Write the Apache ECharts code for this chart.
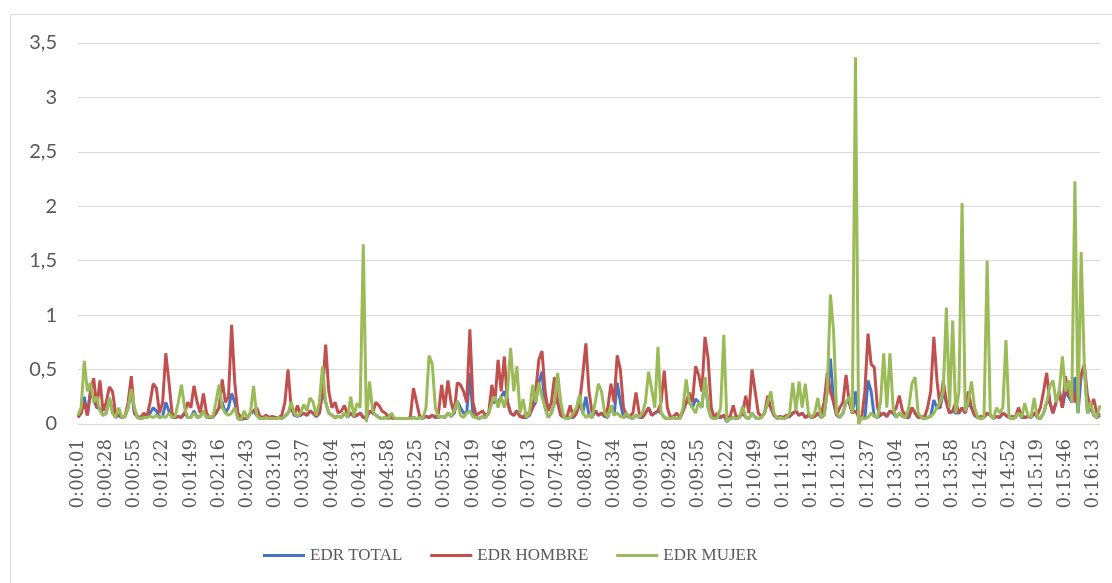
<!DOCTYPE html>
<html>
<head>
<meta charset="utf-8">
<script src="https://cdn.jsdelivr.net/npm/echarts@6/dist/echarts.min.js"></script>
<style>
html,body{margin:0;padding:0;background:#fff;}
#chart{width:1112px;height:583px;}
</style>
</head>
<body>
<div id="chart"></div>
<script>
// Time axis: one sample every 3 seconds, starting at 0:00:01
const startSecond = 1;
const stepSeconds = 3;
const labelEvery = 9; // a tick label every 27 s

const seriesNames = ['EDR TOTAL', 'EDR HOMBRE', 'EDR MUJER'];
const yTicks = [0, 0.5, 1, 1.5, 2, 2.5, 3, 3.5];

const edrTotal = [
0.06,0.1,0.25,0.08,0.3,0.22,0.15,0.14,0.08,
0.1,0.24,0.12,0.06,0.08,0.06,0.07,0.15,0.32,
0.1,0.06,0.05,0.06,0.06,0.1,0.15,0.12,0.06,
0.07,0.2,0.12,0.06,0.06,0.07,0.06,0.1,0.06,
0.06,0.12,0.06,0.07,0.12,0.06,0.06,0.06,0.1,
0.15,0.2,0.1,0.15,0.28,0.2,0.05,0.04,0.05,
0.05,0.1,0.12,0.08,0.05,0.05,0.06,0.05,0.05,
0.05,0.06,0.05,0.07,0.1,0.15,0.08,0.07,0.08,
0.1,0.08,0.12,0.1,0.07,0.1,0.3,0.2,0.1,
0.08,0.06,0.07,0.06,0.1,0.06,0.1,0.07,0.08,
0.1,0.06,0.05,0.12,0.1,0.08,0.06,0.05,0.06,
0.05,0.06,0.05,0.05,0.05,0.05,0.05,0.05,0.06,
0.05,0.06,0.05,0.07,0.06,0.08,0.06,0.06,0.07,
0.06,0.1,0.07,0.1,0.21,0.15,0.1,0.1,0.47,
0.07,0.06,0.05,0.07,0.06,0.1,0.2,0.2,0.2,
0.25,0.3,0.2,0.1,0.08,0.12,0.07,0.06,0.06,
0.08,0.15,0.2,0.38,0.48,0.15,0.06,0.1,0.2,
0.2,0.08,0.06,0.05,0.06,0.06,0.1,0.2,0.1,
0.25,0.08,0.06,0.12,0.08,0.1,0.07,0.06,0.17,
0.08,0.38,0.2,0.06,0.08,0.06,0.05,0.08,0.06,
0.06,0.1,0.15,0.08,0.1,0.12,0.1,0.06,0.05,
0.05,0.06,0.05,0.05,0.12,0.2,0.2,0.15,0.23,
0.2,0.15,0.43,0.15,0.06,0.05,0.06,0.06,0.08,
0.02,0.05,0.06,0.05,0.06,0.1,0.06,0.05,0.1,
0.06,0.05,0.06,0.1,0.2,0.15,0.08,0.05,0.06,
0.05,0.06,0.07,0.1,0.12,0.08,0.1,0.06,0.08,
0.06,0.07,0.1,0.06,0.08,0.3,0.6,0.2,0.08,
0.06,0.1,0.2,0.2,0.1,0.3,0.04,0.06,0.05,
0.4,0.3,0.07,0.06,0.08,0.1,0.07,0.12,0.1,
0.06,0.1,0.07,0.06,0.06,0.15,0.1,0.06,0.06,
0.05,0.06,0.07,0.22,0.15,0.15,0.3,0.2,0.1,
0.12,0.1,0.1,0.15,0.1,0.2,0.15,0.08,0.06,
0.05,0.06,0.1,0.08,0.05,0.07,0.06,0.1,0.08,
0.06,0.05,0.06,0.1,0.06,0.06,0.07,0.06,0.1,
0.06,0.05,0.1,0.2,0.2,0.1,0.2,0.3,0.15,
0.3,0.25,0.2,0.43,0.1,0.45,0.53,0.1,0.15,
0.08,0.06,0.08
];

const edrHombre = [
0.06,0.1,0.2,0.08,0.3,0.42,0.15,0.40,0.12,
0.2,0.34,0.3,0.1,0.08,0.06,0.07,0.2,0.44,
0.1,0.07,0.06,0.1,0.07,0.2,0.37,0.33,0.1,
0.2,0.65,0.39,0.1,0.06,0.07,0.06,0.1,0.2,
0.15,0.35,0.2,0.1,0.28,0.1,0.06,0.07,0.1,
0.15,0.41,0.2,0.25,0.91,0.38,0.1,0.06,0.05,
0.06,0.1,0.12,0.15,0.07,0.06,0.08,0.06,0.07,
0.06,0.06,0.08,0.2,0.50,0.15,0.08,0.17,0.08,
0.1,0.08,0.12,0.1,0.07,0.1,0.3,0.73,0.30,
0.15,0.2,0.1,0.12,0.17,0.08,0.1,0.07,0.08,
0.1,0.06,0.07,0.12,0.1,0.2,0.17,0.12,0.1,
0.07,0.06,0.05,0.05,0.05,0.05,0.05,0.06,0.33,
0.2,0.07,0.06,0.07,0.06,0.08,0.06,0.1,0.36,
0.15,0.40,0.2,0.1,0.38,0.36,0.30,0.2,0.87,
0.2,0.08,0.1,0.12,0.08,0.1,0.36,0.2,0.59,
0.3,0.62,0.2,0.1,0.08,0.12,0.07,0.06,0.1,
0.08,0.15,0.3,0.59,0.67,0.3,0.12,0.2,0.43,
0.2,0.08,0.06,0.07,0.17,0.06,0.1,0.2,0.45,
0.74,0.3,0.1,0.12,0.08,0.1,0.07,0.15,0.37,
0.2,0.63,0.50,0.15,0.08,0.07,0.1,0.29,0.1,
0.06,0.1,0.15,0.08,0.1,0.12,0.2,0.49,0.15,
0.06,0.07,0.1,0.06,0.12,0.2,0.29,0.2,0.53,
0.45,0.3,0.80,0.6,0.15,0.06,0.1,0.06,0.08,
0.06,0.07,0.17,0.06,0.07,0.1,0.26,0.1,0.50,
0.3,0.1,0.07,0.1,0.26,0.15,0.08,0.06,0.07,
0.06,0.08,0.07,0.1,0.12,0.08,0.1,0.06,0.08,
0.06,0.07,0.1,0.08,0.2,0.47,0.3,0.2,0.08,
0.15,0.2,0.45,0.2,0.1,0.12,0.07,0.06,0.3,
0.83,0.55,0.52,0.15,0.08,0.1,0.07,0.12,0.1,
0.15,0.26,0.12,0.08,0.06,0.15,0.1,0.06,0.07,
0.06,0.15,0.3,0.80,0.4,0.15,0.40,0.2,0.1,
0.12,0.2,0.1,0.15,0.1,0.3,0.15,0.08,0.06,
0.07,0.06,0.1,0.08,0.06,0.07,0.06,0.1,0.08,
0.06,0.07,0.06,0.15,0.08,0.06,0.07,0.06,0.1,
0.08,0.15,0.3,0.47,0.2,0.1,0.2,0.3,0.15,
0.44,0.25,0.38,0.2,0.3,0.45,0.55,0.26,0.15,
0.23,0.1,0.08
];

const edrMujer = [
0.08,0.15,0.58,0.3,0.38,0.2,0.25,0.12,0.08,
0.1,0.24,0.1,0.06,0.15,0.06,0.07,0.15,0.32,
0.15,0.06,0.05,0.06,0.06,0.07,0.06,0.08,0.06,
0.07,0.06,0.1,0.06,0.07,0.2,0.36,0.15,0.06,
0.06,0.1,0.06,0.07,0.12,0.06,0.07,0.06,0.2,
0.36,0.15,0.1,0.08,0.1,0.15,0.05,0.04,0.12,
0.05,0.1,0.35,0.08,0.05,0.05,0.06,0.05,0.05,
0.05,0.06,0.05,0.07,0.1,0.2,0.1,0.07,0.1,
0.18,0.12,0.24,0.2,0.08,0.2,0.53,0.2,0.1,
0.08,0.06,0.07,0.06,0.1,0.06,0.25,0.07,0.19,
0.15,1.65,0.02,0.39,0.12,0.08,0.06,0.05,0.06,
0.05,0.1,0.05,0.05,0.05,0.05,0.05,0.05,0.06,
0.05,0.06,0.05,0.15,0.63,0.55,0.15,0.06,0.07,
0.06,0.1,0.07,0.12,0.21,0.08,0.06,0.1,0.12,
0.07,0.06,0.05,0.07,0.06,0.1,0.2,0.25,0.15,
0.25,0.15,0.3,0.70,0.3,0.53,0.1,0.23,0.06,
0.1,0.36,0.2,0.38,0.25,0.15,0.06,0.1,0.2,
0.47,0.2,0.06,0.05,0.06,0.1,0.15,0.27,0.1,
0.06,0.08,0.06,0.2,0.37,0.3,0.1,0.06,0.17,
0.08,0.1,0.07,0.06,0.1,0.06,0.05,0.08,0.06,
0.1,0.2,0.48,0.32,0.15,0.71,0.1,0.06,0.05,
0.05,0.06,0.05,0.05,0.15,0.41,0.2,0.15,0.1,
0.2,0.15,0.43,0.15,0.06,0.05,0.06,0.15,0.82,
0.02,0.05,0.06,0.05,0.06,0.16,0.06,0.05,0.1,
0.06,0.05,0.06,0.1,0.2,0.30,0.1,0.05,0.06,
0.05,0.06,0.1,0.38,0.12,0.39,0.15,0.37,0.1,
0.06,0.1,0.24,0.06,0.08,0.3,1.19,0.86,0.1,
0.06,0.1,0.2,0.25,0.1,3.37,0.0,0.06,0.05,
0.06,0.1,0.07,0.06,0.2,0.65,0.15,0.65,0.15,
0.06,0.1,0.07,0.06,0.15,0.37,0.43,0.1,0.06,
0.05,0.06,0.07,0.1,0.15,0.2,0.3,1.07,0.15,
0.95,0.1,0.3,2.03,0.12,0.2,0.39,0.15,0.06,
0.05,0.06,1.50,0.08,0.05,0.15,0.1,0.15,0.77,
0.06,0.05,0.06,0.1,0.06,0.19,0.08,0.06,0.24,
0.06,0.05,0.1,0.2,0.35,0.40,0.2,0.3,0.62,
0.3,0.4,0.2,2.23,0.1,1.58,0.53,0.1,0.2,
0.08,0.06,0.17
];

function fmtTime(s){
  const h = Math.floor(s/3600), m = Math.floor((s%3600)/60), sec = s%60;
  return h + ':' + String(m).padStart(2,'0') + ':' + String(sec).padStart(2,'0');
}
const categories = edrTotal.map((_, i) => fmtTime(startSecond + i*stepSeconds));

const colors = ['#4472C4', '#C0504D', '#9BBB59'];
const dataSets = [edrTotal, edrHombre, edrMujer];

const chart = echarts.init(document.getElementById('chart'), null, {renderer: 'canvas'});
chart.setOption({
  animation: false,
  backgroundColor: '#ffffff',
  color: colors,
  graphic: [{
    type: 'rect',
    shape: {x: 10.5, y: 14.5, width: 1120, height: 600},
    style: {fill: 'none', stroke: '#d9d9d9', lineWidth: 1},
    silent: true,
    z: -1
  }],
  grid: {left: 78, right: 12, top: 43, bottom: 159, containLabel: false},
  legend: {
    left: 258,
    top: 542,
    itemWidth: 42,
    itemHeight: 3,
    itemGap: 28,
    icon: 'rect',
    textStyle: {fontFamily: 'Liberation Serif', fontSize: 17, color: '#595959'},
    data: seriesNames
  },
  xAxis: {
    type: 'category',
    boundaryGap: false,
    data: categories,
    axisLine: {show: true, lineStyle: {color: '#d9d9d9', width: 1}},
    axisTick: {show: false},
    axisLabel: {
      interval: labelEvery - 1,
      rotate: 90,
      margin: 15,
      fontFamily: 'DejaVu Serif',
      fontSize: 18,
      color: '#595959'
    },
    splitLine: {show: false}
  },
  yAxis: {
    type: 'value',
    min: yTicks[0],
    max: yTicks[yTicks.length-1],
    interval: 0.5,
    axisLine: {show: false},
    axisTick: {show: false},
    axisLabel: {
      margin: 21,
      fontFamily: 'Lato',
      fontSize: 20,
      color: '#595959',
      formatter: v => String(v).replace('.', ',')
    },
    splitLine: {lineStyle: {color: '#d9d9d9', width: 1}}
  },
  series: seriesNames.map((name, i) => ({
    name: name,
    type: 'line',
    data: dataSets[i],
    showSymbol: false,
    symbol: 'none',
    lineStyle: {width: 3, color: colors[i]},
    itemStyle: {color: colors[i]},
    z: 2 + i
  }))
});
</script>
</body>
</html>
